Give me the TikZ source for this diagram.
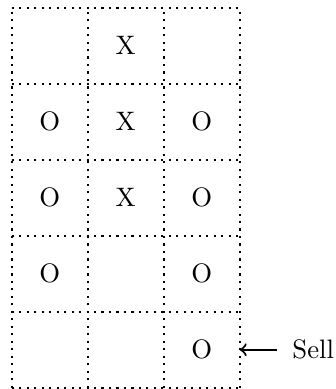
\documentclass[tikz,border=0pt]{standalone}
\begin{document}
\begin{tikzpicture}[
  gridline/.style={thick,dotted},
  cellmark/.style={inner sep=0pt}]
\useasboundingbox (-0.154,-0.017) rectangle (4.254,5.101);
\draw[gridline] (0,0) grid (3,5);
% row 5 (top)
\node[cellmark] (a2) at (1.5,4.5) {X};
% row 4
\node[cellmark] (b1) at (0.5,3.5) {O};
\node[cellmark] (b2) at (1.5,3.5) {X};
\node[cellmark] (b3) at (2.5,3.5) {O};
% row 3
\node[cellmark] (c1) at (0.5,2.5) {O};
\node[cellmark] (c2) at (1.5,2.5) {X};
\node[cellmark] (c3) at (2.5,2.5) {O};
% row 2
\node[cellmark] (d1) at (0.5,1.5) {O};
\node[cellmark] (d3) at (2.5,1.5) {O};
% row 1
\node[cellmark] (e3) at (2.5,0.5) {O};
\node[anchor=west,inner xsep=5.6pt] (sell) at (3.49,0.5) {Sell};
\coordinate (target) at (3.0,0.5);
\draw[thick,->] (sell.west) -- (target);
\end{tikzpicture}
\end{document}
